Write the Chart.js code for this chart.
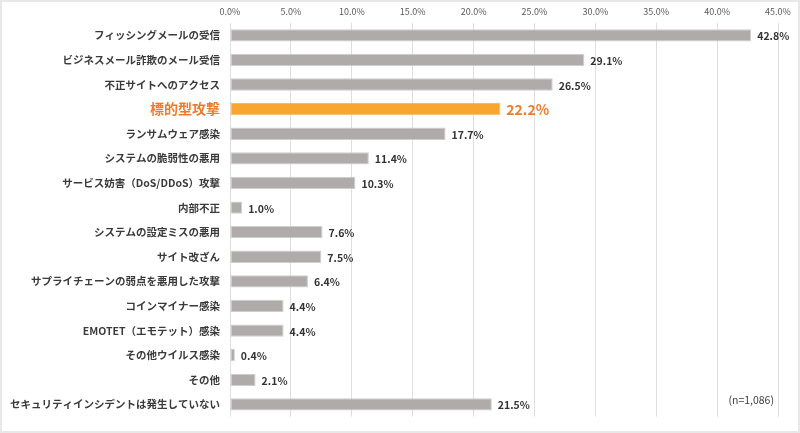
<!DOCTYPE html>
<html>
<head>
<meta charset="utf-8">
<script src="https://cdn.jsdelivr.net/npm/chart.js@4/dist/chart.umd.min.js"></script>
<style>
	html, body { margin: 0; padding: 0; background: #fff; }
	#wrap { position: relative; width: 800px; height: 433px; }
	#frame { position: absolute; left: 0; top: 0; right: 0; bottom: 0; border: 2px solid #e8e8e8; pointer-events: none; }
</style>
</head>
<body>
<div id="wrap">
	<canvas id="incident-chart" width="800" height="433"></canvas>
	<div id="frame"></div>
</div>
<script>
const categories = [
	'フィッシングメールの受信',
	'ビジネスメール詐欺のメール受信',
	'不正サイトへのアクセス',
	'標的型攻撃',
	'ランサムウェア感染',
	'システムの脆弱性の悪用',
	'サービス妨害（DoS/DDoS）攻撃',
	'内部不正',
	'システムの設定ミスの悪用',
	'サイト改ざん',
	'サプライチェーンの弱点を悪用した攻撃',
	'コインマイナー感染',
	'EMOTET（エモテット）感染',
	'その他ウイルス感染',
	'その他',
	'セキュリティインシデントは発生していない',
];
const percents = [42.8, 29.1, 26.5, 22.2, 17.7, 11.4, 10.3, 1.0, 7.6, 7.5, 6.4, 4.4, 4.4, 0.4, 2.1, 21.5];
const highlightLabel = '標的型攻撃';
const sampleNote = '(n=1,086)';

const FONT = '"Noto Sans CJK JP", "Noto Sans", sans-serif';
const isHi = (i) => categories[i] === highlightLabel;

// value labels at the end of each bar + the (n=...) note
const valueLabels = {
	id: 'valueLabels',
	afterDatasetsDraw(chart) {
		const ctx = chart.ctx;
		const meta = chart.getDatasetMeta(0);
		ctx.save();
		ctx.textBaseline = 'middle';
		ctx.textAlign = 'left';
		meta.data.forEach((bar, i) => {
			if (isHi(i)) {
				ctx.font = 'bold 14px ' + FONT;
				ctx.fillStyle = '#ee7b2c';
			} else {
				ctx.font = 'bold 10.5px ' + FONT;
				ctx.fillStyle = '#333333';
			}
			ctx.fillText(percents[i].toFixed(1) + '%', bar.x + 6, bar.y + 1);
		});
		const last = meta.data[meta.data.length - 1];
		ctx.font = '10.5px ' + FONT;
		ctx.fillStyle = '#404040';
		ctx.textAlign = 'right';
		ctx.fillText(sampleNote, chart.chartArea.right - 4, last.y - 4);
		ctx.restore();
	}
};

const $elm = document.querySelector('#incident-chart');

new Chart($elm, {
	type: 'bar',
	data: {
		labels: categories,
		datasets: [{
			data: percents,
			backgroundColor: categories.map((c, i) => isHi(i) ? '#f9a630' : '#afabab'),
			borderColor: categories.map((c, i) => isHi(i) ? '#fbb860' : '#cfcdcd'),
			borderWidth: 1,
			borderSkipped: false,
			categoryPercentage: 1,
			barPercentage: 0.5,
		}]
	},
	plugins: [valueLabels],
	options: {
		indexAxis: 'y',
		responsive: false,
		animation: false,
		layout: { padding: { top: 0, right: 22, bottom: 9, left: 0 } },
		plugins: {
			legend: { display: false },
			tooltip: { enabled: false },
		},
		scales: {
			x: {
				position: 'top',
				min: 0, max: 45,
				ticks: {
					stepSize: 5,
					padding: 6,
					color: '#595959',
					font: { family: FONT, size: 9 },
					callback: (v) => v.toFixed(1) + '%',
				},
				grid: { color: '#dedede', lineWidth: 1, drawTicks: false },
				border: { display: false },
				afterFit: (scale) => { scale.height = 23; },
			},
			y: {
				ticks: {
					padding: 10,
					autoSkip: false,
					color: (c) => isHi(c.index) ? '#ee7b2c' : '#3a3a3a',
					font: (c) => isHi(c.index)
						? { family: FONT, size: 14, weight: 'bold' }
						: { family: FONT, size: 10.5, weight: 'bold' },
				},
				grid: { display: false, drawTicks: false },
				border: { display: false },
				afterFit: (scale) => { scale.width = 230; },
			},
		},
	},
});
</script>
</body>
</html>
